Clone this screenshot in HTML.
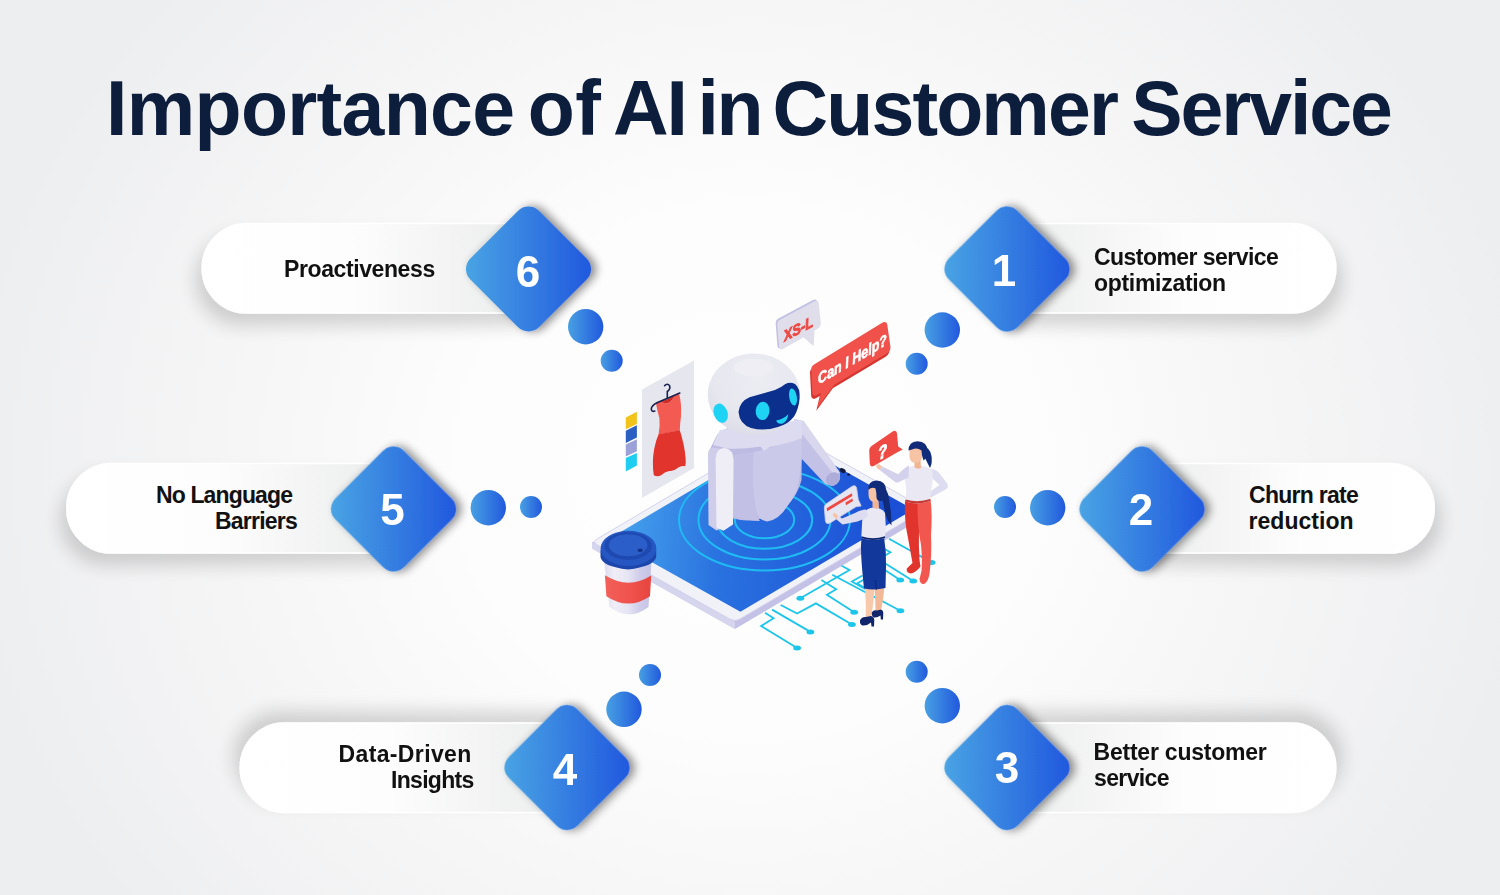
<!DOCTYPE html>
<html lang="en">
<head>
<meta charset="utf-8">
<title>Importance of AI in Customer Service</title>
<style>
html,body{margin:0;padding:0;}
body{width:1500px;height:895px;overflow:hidden;position:relative;
  font-family:"Liberation Sans",sans-serif;font-weight:bold;
  background:#edeeef;}
#bg{position:absolute;left:0;top:0;width:1500px;height:895px;
  background:radial-gradient(ellipse 790px 720px at 750px 470px,#fefefe 0%,#fdfdfd 36%,#f6f6f7 64%,#edeeef 100%);}
svg#art{position:absolute;left:0;top:0;}
h1{position:absolute;margin:0;left:0;top:65px;width:1500px;height:86px;white-space:nowrap;
  font-size:77px;line-height:86px;color:#0d1d3c;font-weight:bold;}
h1 span{position:absolute;top:0;}
.lb{position:absolute;margin:0;white-space:nowrap;font-size:23px;line-height:26px;color:#111;font-weight:bold;}
.num{position:absolute;margin:0;width:60px;text-align:center;font-size:44px;line-height:44px;color:#fff;font-weight:bold;}
</style>
</head>
<body>
<div id="bg"></div>

<svg id="art" width="1500" height="895" viewBox="0 0 1500 895">
  <defs>
    <linearGradient id="gd" x1="0" y1="1" x2="1" y2="0">
      <stop offset="0" stop-color="#4ba7e4"/>
      <stop offset="1" stop-color="#1f55de"/>
    </linearGradient>
    <linearGradient id="gc" x1="0" y1="0" x2="1" y2="0">
      <stop offset="0" stop-color="#48a0e3"/>
      <stop offset="1" stop-color="#2159dd"/>
    </linearGradient>
    <linearGradient id="pl" x1="0" y1="0" x2="1" y2="0">
      <stop offset="0" stop-color="#ffffff"/>
      <stop offset="0.45" stop-color="#fdfdfd"/>
      <stop offset="1" stop-color="#ebecec"/>
    </linearGradient>
    <linearGradient id="pr" x1="1" y1="0" x2="0" y2="0">
      <stop offset="0" stop-color="#ffffff"/>
      <stop offset="0.45" stop-color="#fdfdfd"/>
      <stop offset="1" stop-color="#ebecec"/>
    </linearGradient>
    <filter id="shL" x="-20%" y="-40%" width="140%" height="200%">
      <feGaussianBlur in="SourceAlpha" stdDeviation="9"/>
      <feOffset dx="-6" dy="12" result="b"/>
      <feComponentTransfer><feFuncA type="linear" slope="0.16"/></feComponentTransfer>
      <feMerge><feMergeNode/><feMergeNode in="SourceGraphic"/></feMerge>
    </filter>
    <filter id="shR" x="-20%" y="-40%" width="140%" height="200%">
      <feGaussianBlur in="SourceAlpha" stdDeviation="9"/>
      <feOffset dx="6" dy="12" result="b"/>
      <feComponentTransfer><feFuncA type="linear" slope="0.16"/></feComponentTransfer>
      <feMerge><feMergeNode/><feMergeNode in="SourceGraphic"/></feMerge>
    </filter>
    <filter id="shLT" x="-20%" y="-60%" width="140%" height="200%">
      <feGaussianBlur in="SourceAlpha" stdDeviation="9"/>
      <feOffset dx="-6" dy="-11" result="b"/>
      <feComponentTransfer><feFuncA type="linear" slope="0.16"/></feComponentTransfer>
      <feMerge><feMergeNode/><feMergeNode in="SourceGraphic"/></feMerge>
    </filter>
    <filter id="shRT" x="-20%" y="-60%" width="140%" height="200%">
      <feGaussianBlur in="SourceAlpha" stdDeviation="9"/>
      <feOffset dx="6" dy="-11" result="b"/>
      <feComponentTransfer><feFuncA type="linear" slope="0.16"/></feComponentTransfer>
      <feMerge><feMergeNode/><feMergeNode in="SourceGraphic"/></feMerge>
    </filter>
    <filter id="shD" x="-30%" y="-30%" width="160%" height="160%">
      <feGaussianBlur in="SourceAlpha" stdDeviation="5"/>
      <feOffset dx="5" dy="0" result="b"/>
      <feComponentTransfer><feFuncA type="linear" slope="0.46"/></feComponentTransfer>
      <feMerge><feMergeNode/><feMergeNode in="SourceGraphic"/></feMerge>
    </filter>
    <rect id="dm" x="-48.6" y="-48.6" width="97.2" height="97.2" rx="15" ry="15" transform="rotate(45)" fill="url(#gd)"/>
  </defs>

  <!-- pills -->
  <g stroke="#ffffff" stroke-width="1.5">
    <path filter="url(#shL)" fill="url(#pl)" d="M247 223.5 H530 V313 H247 A44.75 44.75 0 0 1 247 223.5 Z"/>
    <path filter="url(#shL)" fill="url(#pl)" d="M111.5 463.5 H395 V553 H111.5 A44.75 44.75 0 0 1 111.5 463.5 Z"/>
    <path filter="url(#shLT)" fill="url(#pl)" d="M285 723 H568 V812.5 H285 A44.75 44.75 0 0 1 285 723 Z"/>
    <path filter="url(#shR)" fill="url(#pr)" d="M1005 223.5 H1291 A44.75 44.75 0 0 1 1291 313 H1005 Z"/>
    <path filter="url(#shR)" fill="url(#pr)" d="M1140 463.5 H1389.5 A44.75 44.75 0 0 1 1389.5 553 H1140 Z"/>
    <path filter="url(#shRT)" fill="url(#pr)" d="M1005 723 H1291 A44.75 44.75 0 0 1 1291 812.5 H1005 Z"/>
  </g>

  <!-- connector dots -->
  <g fill="url(#gc)">
    <circle cx="585.7" cy="326.7" r="17.7"/><circle cx="611.7" cy="360.7" r="11"/>
    <circle cx="942.3" cy="330" r="17.7"/><circle cx="916.7" cy="363.7" r="11"/>
    <circle cx="488.3" cy="507.7" r="17.7"/><circle cx="531" cy="507" r="11"/>
    <circle cx="1047.7" cy="507.7" r="17.7"/><circle cx="1005" cy="507" r="11"/>
    <circle cx="624" cy="709.3" r="17.7"/><circle cx="650" cy="675" r="11"/>
    <circle cx="942.3" cy="705.7" r="17.7"/><circle cx="916.7" cy="671.7" r="11"/>
  </g>

  <!-- diamonds -->
  <g filter="url(#shD)">
    <use href="#dm" x="528.5" y="269"/>
    <use href="#dm" x="1007" y="269"/>
    <use href="#dm" x="393.5" y="509"/>
    <use href="#dm" x="1142" y="509"/>
    <use href="#dm" x="567" y="767.5"/>
    <use href="#dm" x="1007" y="767.5"/>
  </g>

  <!-- ILLUSTRATION -->
<g id="illu">
  <defs>
    <linearGradient id="scr" gradientUnits="userSpaceOnUse" x1="615" y1="520" x2="890" y2="540">
      <stop offset="0" stop-color="#46a4ec"/>
      <stop offset="0.38" stop-color="#2a72e0"/>
      <stop offset="1" stop-color="#1b4fd6"/>
    </linearGradient>
    <clipPath id="scrclip"><path d="M609.6 538.6 L782.6 436.2 L913.4 509.4 L740.4 611.8 Z"/></clipPath>
  </defs>
  <!-- circuit traces -->
  <g fill="none" stroke="#1cc5ea" stroke-width="1.8" stroke-linejoin="miter">
    <path d="M765 612.8 L773.6 618.2 L761.1 626.1 L797.1 648"/>
    <path d="M772.1 609.6 L810.4 631.9"/>
    <path d="M780.7 605 L797.1 613.6 L815.9 603.4 L851.9 624.5"/>
    <path d="M840.2 565 L849.5 570 L800.3 598.2"/>
    <path d="M821.4 579.9 L836.2 589.3 L826.9 594.8 L854.2 612.3"/>
    <path d="M832.3 574.7 L900.4 610.7"/>
    <path d="M862.5 575.5 L851.9 581.5 L866 589.5"/>
    <path d="M864 579.5 L857 583.5 L868 589.5"/>
    <path d="M889 538.8 L931.6 562.4"/>
    <path d="M884 548.8 L890.4 552.2 L885.5 555.2"/>
    <path d="M884.5 563 L913.2 580.9"/>
    <path d="M884 569.5 L900.2 580"/>
  </g>
  <g fill="#1cc5ea">
    <ellipse cx="797.1" cy="648" rx="3.9" ry="2.5"/><ellipse cx="810.4" cy="631.9" rx="3.9" ry="2.5"/>
    <ellipse cx="851.9" cy="624.5" rx="3.9" ry="2.5"/><ellipse cx="800.3" cy="598.2" rx="3.9" ry="2.5"/>
    <ellipse cx="854.2" cy="612.3" rx="3.9" ry="2.5"/><ellipse cx="900.4" cy="610.7" rx="3.9" ry="2.5"/>
    <ellipse cx="931.6" cy="562.4" rx="3.9" ry="2.5"/><ellipse cx="913.2" cy="580.9" rx="3.9" ry="2.5"/>
    <ellipse cx="900.2" cy="580" rx="3.9" ry="2.5"/>
  </g>
  <!-- tablet body -->
  <path d="M592 542 L592 548.5 L735 629 L926 516 L926 509 Z" fill="#c3c1e6"/>
  <path d="M592 548.5 L735 629 L735 622 L592 542 Z" fill="#d6d5ee"/>
  <path d="M597 539 L783 429 L926 509 L740 619 Q735 622 730 619.2 L597 544.8 Q592 542 597 539 Z" fill="#f1f1f8" stroke="#d3d2ee" stroke-width="1"/>
  <path d="M609.6 538.6 L782.6 436.2 L913.4 509.4 L740.4 611.8 Z" fill="url(#scr)"/>
  <!-- rings -->
  <g clip-path="url(#scrclip)" fill="none" stroke="#1fbcf3" stroke-width="2">
    <ellipse cx="764.5" cy="519.8" rx="29.7" ry="18.5"/>
    <ellipse cx="764.5" cy="519.8" rx="47.7" ry="29"/>
    <ellipse cx="764.5" cy="519.8" rx="66" ry="39.8"/>
    <ellipse cx="764.5" cy="519.8" rx="85.5" ry="50.8"/>
  </g>
  <!-- camera -->
  <ellipse cx="842.7" cy="470.6" rx="3.2" ry="2.1" fill="#111a3a" transform="rotate(28 842.7 470.6)"/>
  <ellipse cx="848.6" cy="474.6" rx="1.7" ry="1.2" fill="#111a3a"/>
  <!-- dress panel -->
  <path d="M642 389.5 L694 360.5 L694 468 L642 498 Z" fill="#e6e6ee"/>
  <!-- swatches -->
  <path d="M625.8 417.4 L636.9 411.8 L636.9 424 L625.8 429.3 Z" fill="#f2c31b"/>
  <path d="M625.8 430.8 L636.9 425.2 L636.9 437.5 L625.8 443 Z" fill="#2b5fc1"/>
  <path d="M625.8 444.6 L636.9 439.3 L636.9 451.3 L625.8 456.5 Z" fill="#9ca1d8"/>
  <path d="M625.8 458 L636.9 453 L636.9 465.4 L625.8 471.5 Z" fill="#1fcdf1"/>
  <!-- dress -->
  <path d="M656 403.2 L659.5 401 Q663 403.5 667.5 403.2 Q672.5 401.5 674.5 395.2 L679 393.3 Q681.8 404 681 416 Q680 424 679.8 430.5 L658.6 434.5 Q660.2 426 659.4 418 Q657 410 656 403.2 Z" fill="#f25a52"/>
  <path d="M658.6 434.3 L679.8 430.3 Q684.5 445 685.6 458 Q686 463 685.2 466.3 Q681 465.5 678 467.8 Q674 471.5 669.5 471 Q665 471.5 661.5 475 Q657.5 477.5 653.8 475.2 Q651.8 462 654.2 449 Q656 440 658.6 434.3 Z" fill="#e0342c"/>
  <path d="M659.5 401 Q663 403.5 667.5 403.2 Q672.5 401.5 674.5 395.2 Q670 398 666.5 399.5 Q662.5 401 659.5 401 Z" fill="#cf2c26"/>
  <!-- hanger -->
  <path d="M679.8 393 L657 402.8 Q651.5 405.5 651.3 409 Q651.5 412.2 654.8 411" fill="none" stroke="#1a2350" stroke-width="1.6" stroke-linecap="round"/>
  <path d="M667.3 398 L667.3 391.5 Q670.8 389 669.6 385.8 Q667.5 382.8 664.6 385.6" fill="none" stroke="#1a2350" stroke-width="1.6" stroke-linecap="round"/>
  <defs>
    <radialGradient id="hd" cx="0.55" cy="0.3" r="0.8">
      <stop offset="0" stop-color="#ececf3"/>
      <stop offset="0.6" stop-color="#e7e7ef"/>
      <stop offset="1" stop-color="#d9d9e7"/>
    </radialGradient>
    <linearGradient id="bd" x1="0" y1="0" x2="1" y2="0">
      <stop offset="0" stop-color="#c4c2e6"/>
      <stop offset="0.5" stop-color="#d1cfed"/>
      <stop offset="1" stop-color="#c6c4e7"/>
    </linearGradient>
  </defs>
  <!-- right arm (behind body) -->
  <path d="M794 419 L803.5 421 L839.8 472.6 Q841.6 481 833 486 L825.5 484.2 L799 456 L796 440 Z" fill="#c3c1e5"/>
  <path d="M794 419 L803.5 421 L839.8 472.6 L833.8 474.6 L797.5 428 Z" fill="#d8d7ee"/>
  <ellipse cx="833" cy="479" rx="7.6" ry="6.3" transform="rotate(-35 833 479)" fill="#aeacd8"/>
  <!-- body base (darker) -->
  <path d="M709 451 L710 500 Q712 513 733.5 518.5 Q757.6 526 785.8 507 Q798 495 801.5 480 L802 438 Q790 424 760 424 Q726 424 717 435 Z" fill="#bdbbe2"/>
  <!-- belly (lighter front) -->
  <path d="M753.6 452 Q750.5 478 755.6 508 Q757.5 520.5 767 521.6 Q779 520 788.2 505 Q797 493 798.8 482 Q802.5 460 801.9 437 L764.3 449.5 Z" fill="#cbc9ea"/>
  <path d="M733.5 455 L753.6 452 Q750.5 478 755.6 508 Q756.5 517 760 521 Q746 521 733.5 516 Z" fill="#c2c0e5"/>
  <!-- collar -->
  <path d="M720 430 L802 420 L802 438 Q788 443.5 769.7 447 L763.9 451 L760.3 446.5 Q742 449.5 726.8 448.5 L713 445 L717.5 435 Z" fill="#dcdbf0"/>
  <!-- left arm -->
  <path d="M708 455 Q708 447 714.5 447.5 L722 449 L722 528 L716.5 530.5 L708.5 525 Z" fill="#cfcde9"/>
  <path d="M715.6 459 Q716 448.3 724.5 448 Q733.3 449 733.6 460 L733 524.5 L723.5 530.8 L716.5 527.5 Z" fill="#efeef7"/>
  <!-- head -->
  <ellipse cx="753.9" cy="394.4" rx="46.1" ry="41" fill="url(#hd)"/>
  <ellipse cx="753.6" cy="367.5" rx="19.5" ry="9" fill="#eeeef4" opacity="0.85"/>
  <!-- ear -->
  <ellipse cx="720.7" cy="413.2" rx="6.9" ry="9.9" transform="rotate(-20 720.7 413.2)" fill="#1fd3f4"/>
  <!-- visor -->
  <path d="M738.5 412 Q739.5 401.5 749.5 397.2 Q762 393.8 775 390 Q781 387.5 785 384.2 Q790 381.6 795 384 Q800.2 388 799.6 398 Q798.8 409 794 416.5 Q788.5 424 778 427 Q764 431.5 751 428 Q739.5 424 738.5 412 Z" fill="#0b2f8d"/>
  <ellipse cx="762.6" cy="410.9" rx="6.9" ry="9.2" transform="rotate(6 762.6 410.9)" fill="#1fd3f4"/>
  <ellipse cx="793" cy="397" rx="3.8" ry="8.6" transform="rotate(-10 793 397)" fill="#1fd3f4"/>
  <path d="M776.2 420.6 Q782.5 419.6 788.4 414.2 Q787.4 421.2 782.6 423.6 Q777.6 424.6 776.2 420.6 Z" fill="#1fd3f4"/>
  <defs>
    <linearGradient id="cupb" x1="0" y1="0" x2="1" y2="0">
      <stop offset="0" stop-color="#dcdbef"/><stop offset="0.22" stop-color="#efeef7"/>
      <stop offset="0.5" stop-color="#e6e5f3"/><stop offset="0.75" stop-color="#cfcdea"/>
      <stop offset="1" stop-color="#c4c2e5"/>
    </linearGradient>
    <linearGradient id="cupr" x1="0" y1="0" x2="1" y2="0">
      <stop offset="0" stop-color="#f3605a"/><stop offset="0.55" stop-color="#f0524c"/><stop offset="1" stop-color="#e7453f"/>
    </linearGradient>
  </defs>
  <!-- cup body -->
  <path d="M604 560 L651.5 560 L648.5 607 Q629 622 609.5 607 Z" fill="url(#cupb)"/>
  <path d="M604.9 575.3 Q628.5 590 651.2 575.6 L650 596.2 Q628.5 611 606.4 596.2 Z" fill="url(#cupr)"/>
  <!-- lid -->
  <path d="M600.5 550 L600.5 557 Q602 566.5 628 569.5 Q654 566.5 656.2 557 L656.2 550 Z" fill="#1c46ab"/>
  <ellipse cx="628.5" cy="548.4" rx="27.9" ry="17.6" fill="#2556c2"/>
  <ellipse cx="628.3" cy="546" rx="23.6" ry="13.8" fill="#1d49b0"/>
  <ellipse cx="628.1" cy="545.2" rx="19.4" ry="11" fill="#2b5ec8"/>
  <ellipse cx="640.2" cy="550.3" rx="2.7" ry="1.8" fill="#123288"/>
  <!-- XS-L bubble -->
  <path transform="translate(-1.6 -1.2)" d="M780 319.8 L814.6 301.2 Q818.4 299.4 818.8 303.6 L820.8 323 Q821 326.8 818 328.6 L814.4 330.8 L813.8 346 L804 337 L783 349 Q779.3 350.6 779 346.6 L777.3 325 Q777.2 321.4 780 319.8 Z" fill="#c3c1e3"/>
  <path d="M780 319.8 L814.6 301.2 Q818.4 299.4 818.8 303.6 L820.8 323 Q821 326.8 818 328.6 L814.4 330.8 L813.8 346 L804 337 L783 349 Q779.3 350.6 779 346.6 L777.3 325 Q777.2 321.4 780 319.8 Z" fill="#dfdeea"/>
  <text transform="matrix(0.87 -0.47 0.14 1 784.6 341.6)" font-family="'Liberation Sans',sans-serif" font-weight="bold" font-style="italic" font-size="14.6" fill="#ee4a44" stroke="#ee4a44" stroke-width="0.9">XS-L</text>
  <!-- Can I Help bubble -->
  <path transform="translate(-1.2 3.2)" d="M814 364.6 L881.8 323 Q886.6 320.4 887.4 325.4 L890.4 346.4 Q890.9 350.8 887.2 353.2 L834 385 L817.5 407.5 L821 392.8 L816.5 395.2 Q812.8 396.8 812.4 392.8 L811.2 369 Q811.1 366.2 814 364.6 Z" fill="#d4352f"/>
  <path d="M814 364.6 L881.8 323 Q886.6 320.4 887.4 325.4 L890.4 346.4 Q890.9 350.8 887.2 353.2 L834 385 L817.5 407.5 L821 392.8 L816.5 395.2 Q812.8 396.8 812.4 392.8 L811.2 369 Q811.1 366.2 814 364.6 Z" fill="#f0524b"/>
  <text transform="matrix(0.83 -0.485 0.12 1 818.6 384.6)" font-family="'Liberation Sans',sans-serif" font-weight="bold" font-style="italic" font-size="15.1" fill="#ffffff" stroke="#ffffff" stroke-width="0.6">Can I Help?</text>
  <!-- ? bubble -->
  <path d="M871.5 446 L893 431.2 Q896.6 429.4 897 433.5 L898.2 446.5 L902.8 449.6 L896.5 452.8 L873.8 466 Q870.2 467.6 869.8 463.6 L869.2 450.5 Q869.2 447.5 871.5 446 Z" fill="#ee4a43"/>
  <text transform="matrix(0.86 -0.5 0.08 1 878.6 460.6)" font-family="'Liberation Sans',sans-serif" font-weight="bold" font-style="italic" font-size="17.5" fill="#ffffff" stroke="#ffffff" stroke-width="0.8">?</text>
  <!-- woman 2 (red trousers) -->
  <g>
    <!-- ponytail -->
    <path d="M922 446 Q930 447 931.5 456 Q932.5 463 930 468 Q927 462 925 458 Z" fill="#0f2b7a"/>
    <!-- right arm on hip (behind torso) -->
    <path d="M929 469 Q936 468.5 940 474 L947.5 484 Q949 487.5 945.5 489.5 L931 497.5 L928 493 L939.5 485 L931 477 Z" fill="#dddcf0"/>
    <path d="M931 497.5 L928 493 L925 494.5 L926.5 498.5 Z" fill="#f6c3a4"/>
    <!-- legs -->
    <path d="M905 500 Q904 520 908 538 Q910.5 552 912.5 563 L906.8 568.5 Q906 573 911 573.5 Q916 572.5 920.5 566.5 L919.5 560 Q918.5 545 919 530 L920 500 Z" fill="#e1342d"/>
    <path d="M917.5 500 Q917 525 921 545 Q922.5 560 921.5 571 L919.5 579 Q920 584.5 924 584 Q928 582 929.5 574 Q932 555 931 535 Q932.5 515 930.5 499 Z" fill="#f2574f"/>
    <!-- torso -->
    <path d="M905.5 470.5 Q910 465 917 466 Q927 465.5 932 470 Q934 480 931 490 Q930 497 930.5 501 Q918 505.5 905.5 501.5 Q907 490 905.5 483 Q904 476 905.5 470.5 Z" fill="#e9e8f3"/>
    <path d="M905.5 501.5 Q918 505.5 930.5 501 L930.3 499 Q918 503 905.8 499.5 Z" fill="#c53a35"/>
    <!-- left arm reaching to bubble -->
    <path d="M909 465.5 Q904 468 898.2 474.2 L882.3 466.4 L879.6 470 L895 482 Q897.5 483.2 900 481.6 L908.5 477.5 Z" fill="#d3d1ec"/>
    <path d="M882.3 466.4 L878.6 464 L876.2 465.6 L876.8 468 L879.6 470 Z" fill="#f6c3a4"/>
    <!-- neck + face -->
    <path d="M914.5 461 L920.5 460 L921 468 Q917.5 469.5 914.5 467.5 Z" fill="#f2b594"/>
    <path d="M909.5 451 Q909 445 915 444 L922 446 L922.5 457 Q920 463.5 914.5 463 Q910 462 909.5 456.5 Z" fill="#f6c3a4"/>
    <!-- hair -->
    <path d="M908.5 450.5 Q908.5 441.5 917.5 441.2 Q927.5 441.5 927.8 451.5 Q927.8 457 923.5 460.5 Q921.5 455 921.5 450.5 Q917 447 912 449.5 Z" fill="#0f2b7a"/>
  </g>
  <!-- card -->
  <path d="M826.6 503.6 L852.2 486.2 Q855.8 484.6 856.6 488 L858.3 499.5 L861.2 506 L856 506.8 L830 523 Q826 524.8 825.4 521 L824.3 508 Q824.2 505.2 826.6 503.6 Z" fill="#e6e5f2" stroke="#cdcbe7" stroke-width="0.8"/>
  <path d="M826.6 508.2 L851.8 493.2 L852.4 496 L827.2 511.2 Z" fill="#ee4a43"/>
  <path d="M845.4 502.6 L852.4 498.4 L853 501 L846 505.2 Z" fill="#ee4a43"/>
  <!-- woman 1 (blue skirt) -->
  <g>
    <!-- legs -->
    <path d="M864.5 586 L874.5 587 Q874 600 872 612 L870.5 618.5 L865.5 617.5 Q866.5 604 864.5 586 Z" fill="#f7c9aa"/>
    <path d="M874.5 587 L884.5 586 Q883.5 598 881.5 608 L880 612 L875.5 611 Q875.5 600 874.5 587 Z" fill="#f2b898"/>
    <!-- shoes -->
    <path d="M860 620.5 Q861.5 616.5 866 617 L871 616 Q874 616.5 874.3 620 L874 626.5 L871.5 626.5 L871 622.5 Q867 626 862.5 625.5 Q859.5 624.5 860 620.5 Z" fill="#10256b"/>
    <path d="M871.8 612.5 Q873.5 609.5 877 610.5 L881 609.5 Q883.3 610 883.3 613 L883 619.5 L880.8 619.5 L880.5 615.5 Q877 618 874 617.5 Q871.3 616 871.8 612.5 Z" fill="#10256b"/>
    <!-- skirt -->
    <path d="M861.5 537.5 Q873 541 884 537 Q886.5 552 886 566 L885.5 588 Q875 590.5 864 588.5 Q862 570 861.2 556 Q860.5 546 861.5 537.5 Z" fill="#12389b"/>
    <path d="M875.5 580 L876.3 589.8" stroke="#0b2470" stroke-width="1" fill="none"/>
    <!-- ponytail -->
    <path d="M879.5 484 Q887.5 487 889 499 Q891.5 512 891.5 525.5 Q886.5 520 884.5 510 Q883 500 880 494 Z" fill="#0f2b7a"/>
    <!-- torso -->
    <path d="M862.5 514.5 Q866 508.5 873 507.5 Q882 507.5 885 513 Q886.5 525 885 538 Q873 542 861.3 538 Q862 526 862.5 514.5 Z" fill="#e9e8f3"/>
    <path d="M861.3 538 Q873 542 885 538 L885 536.3 Q873 540 861.4 536.3 Z" fill="#0b2470"/>
    <!-- arm to card -->
    <path d="M866 509.5 Q861 509.5 855 513 L842 518.5 L838 515.5 L836.5 519.5 L842.5 524.5 L857.5 521.5 Q864 519.5 868 516 Z" fill="#dddcf0"/>
    <path d="M838 515.5 L834.5 512.5 L832.5 515 L836.5 519.5 Z" fill="#f6c3a4"/>
    <!-- neck/face -->
    <path d="M872.5 499 L878.5 499 L879 508 Q875.5 509.5 872.5 507.5 Z" fill="#f2b594"/>
    <path d="M868.5 488.5 Q868.5 484.5 873 484 L878 486 L878.5 497 Q876 502.5 872 501.5 Q868.5 499.5 868.5 494 Z" fill="#f6c3a4"/>
    <!-- hair -->
    <path d="M868.2 490 Q867.5 481 876.5 480.5 Q886 481 886.3 490.5 Q886.5 497 882.5 500.5 Q878 502.5 876.5 498 Q876.5 492 875.5 488.5 Q872 486.5 868.2 490 Z" fill="#0f2b7a"/>
  </g>

</g>
</svg>

<h1><span style="left:106px;letter-spacing:-0.66px">Importance </span><span style="left:527.7px;letter-spacing:0.57px">of </span><span style="left:612.9px;letter-spacing:-2px">AI </span><span style="left:697.5px;letter-spacing:-2.5px">in </span><span style="left:772.5px;letter-spacing:-1.86px">Customer </span><span style="left:1131.3px;letter-spacing:-2.08px">Service</span></h1>

<p class="lb" style="left:284px;top:256px;letter-spacing:-0.40px">Proactiveness</p>
<p class="lb" style="left:1094px;top:244px;letter-spacing:-0.55px">Customer service</p>
<p class="lb" style="left:1094px;top:270px;letter-spacing:-0.30px">optimization</p>
<p class="lb" style="left:156px;top:482px;letter-spacing:-0.87px">No Language</p>
<p class="lb" style="left:215px;top:508px;letter-spacing:-0.77px">Barriers</p>
<p class="lb" style="left:1249px;top:482px;letter-spacing:-0.72px">Churn rate</p>
<p class="lb" style="left:1248.5px;top:508px;letter-spacing:0.04px">reduction</p>
<p class="lb" style="left:338.5px;top:740.5px;letter-spacing:0.37px">Data-Driven</p>
<p class="lb" style="left:391px;top:766.5px;letter-spacing:-0.70px">Insights</p>
<p class="lb" style="left:1093.5px;top:739px;letter-spacing:-0.22px">Better customer</p>
<p class="lb" style="left:1094px;top:765px;letter-spacing:-0.62px">service</p>

<p class="num" style="left:498px;top:250px">6</p>
<p class="num" style="left:974px;top:249px">1</p>
<p class="num" style="left:362.5px;top:488px">5</p>
<p class="num" style="left:1111px;top:488px">2</p>
<p class="num" style="left:535px;top:748px">4</p>
<p class="num" style="left:977px;top:746px">3</p>

</body>
</html>
